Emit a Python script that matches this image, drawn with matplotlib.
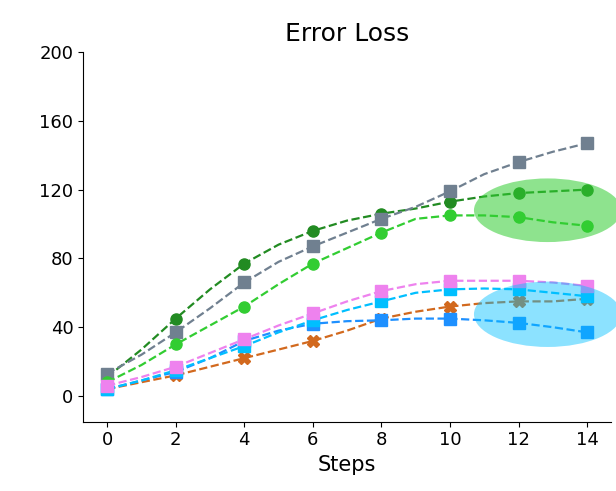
import numpy as np
import matplotlib
matplotlib.use("Agg")
import matplotlib.pyplot as plt
from matplotlib.patches import Ellipse

# data
steps = list(range(15))

dark_green = [11, 27, 45, 62, 77, 88, 96, 102, 106, 109, 113, 116, 118, 119, 120]
slate      = [13, 24, 37, 51, 66, 78, 87, 95, 103, 110, 119, 129, 136, 142, 147]
lime       = [8, 18, 30, 41, 52, 65, 77, 86, 95, 103, 105, 105, 104, 101, 99]
orange     = [4, 8, 12, 17, 22, 27, 32, 38, 45, 49, 52, 54, 55, 55, 56.5]
dodger     = [4, 9, 14, 22, 32, 38, 42, 43.5, 44, 45, 45, 44, 42.5, 40, 37]
deepsky    = [4, 9, 15, 22, 29, 37, 44, 50, 55, 60, 62, 62.5, 62, 60, 58]
violet     = [6, 11, 17, 25, 33, 41, 48, 55, 61, 65, 67, 67, 67, 66, 64]

series = [
    (dark_green, "forestgreen", "o", 8),
    (slate, "slategray", "s", 8.5),
    (lime, "limegreen", "o", 8),
    (orange, "chocolate", "X", 8.5),
    (dodger, "dodgerblue", "s", 8.5),
    (deepsky, "deepskyblue", "s", 8.5),
    (violet, "violet", "s", 8.5),
]

fig = plt.figure(figsize=(6.16, 4.91), dpi=100)
ax = fig.add_axes([0.135, 0.141, 0.857, 0.753])

for vals, col, mk, ms in series:
    ax.plot(steps, vals, linestyle="--", linewidth=1.6, color=col,
            marker=mk, markersize=ms, markevery=2)

# highlight ellipses
ax.add_patch(Ellipse((12.85, 108), 4.3, 37, color="limegreen", alpha=0.55,
                     linewidth=0, zorder=5, clip_on=False))
ax.add_patch(Ellipse((12.85, 47.5), 4.3, 38, color="deepskyblue", alpha=0.45,
                     linewidth=0, zorder=5, clip_on=False))

ax.set_xlim(-0.7, 14.7)
ax.set_ylim(-15, 200)
ax.set_xticks(range(0, 15, 2))
ax.set_yticks([0, 40, 80, 120, 160, 200])
ax.tick_params(labelsize=13)
ax.spines["top"].set_visible(False)
ax.spines["right"].set_visible(False)
ax.set_xlabel("Steps", fontsize=15)
ax.set_title("Error Loss", fontsize=18, pad=8)

plt.savefig("out.png", dpi=100)
